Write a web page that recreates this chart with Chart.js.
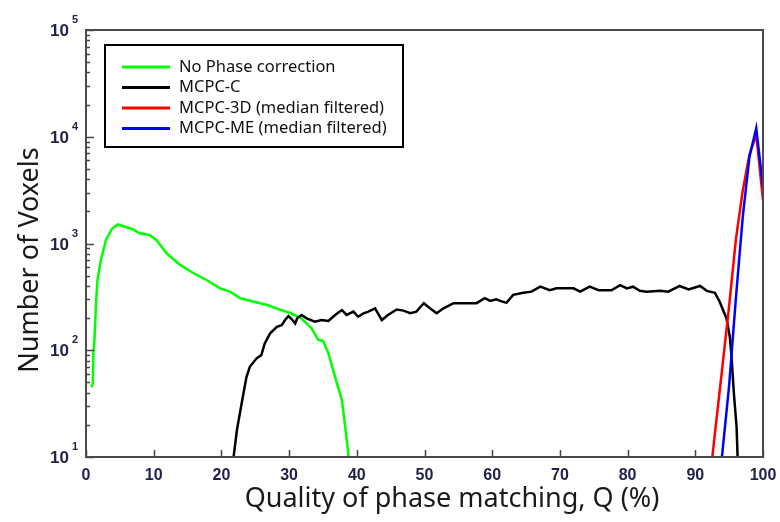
<!DOCTYPE html>
<html>
<head>
<meta charset="utf-8">
<script src="https://cdn.jsdelivr.net/npm/chart.js@4/dist/chart.umd.min.js"></script>
<style>
  html, body { margin: 0; padding: 0; background: #ffffff; }
  #wrap { width: 780px; height: 522px; }
</style>
</head>
<body>
<div id="wrap"><canvas id="chart" width="780" height="522"></canvas></div>
<script>
// Voxel-count histograms over phase-matching quality Q (%)
const seriesNames = [
  'No Phase correction',
  'MCPC-C',
  'MCPC-3D (median filtered)',
  'MCPC-ME (median filtered)'
];
const seriesColors = ['#00ff00', '#000000', '#ff0000', '#0000ff'];

// No phase correction
const qNoCorr = [0.8, 1.0, 1.1, 1.25, 1.5, 1.7, 2.2, 2.95, 3.9, 4.7, 5.4, 6.9, 7.9, 9.4, 10.4,
  11.9, 13.9, 15.9, 17.8, 19.8, 21.3, 22.8, 24.8, 26.8, 28.8, 30.3, 31.8, 33.3, 34.3, 35.0,
  35.8, 36.8, 37.8, 38.3, 38.8, 39.3];
const nNoCorr = [45, 48, 94, 125, 295, 455, 700, 1080, 1390, 1510, 1460, 1360, 1245, 1200, 1080,
  810, 630, 526, 455, 380, 354, 307, 285, 265, 238, 222, 199, 161, 125, 123,
  94, 56, 34, 19, 10, 5];

// MCPC-C
const qMcpcC = [21.0, 21.8, 22.3, 23.0, 23.7, 24.2, 25.2, 25.9, 26.4, 27.2, 28.2, 28.9, 29.4, 29.9,
  30.4, 30.9, 31.2, 31.85, 32.6, 33.8, 34.8, 35.8, 36.8, 37.8, 38.5, 39.5, 40.2, 41.0, 41.7,
  42.7, 43.7, 44.6, 45.9, 46.9, 47.9, 48.8, 49.9, 50.8, 51.8, 52.8, 54.3, 56.2, 57.7, 58.9,
  59.7, 60.6, 61.2, 62.1, 63.1, 64.6, 65.8, 67.1, 68.5, 69.5, 72.0, 73.0, 74.4, 75.7, 77.6,
  78.9, 79.9, 80.8, 81.8, 82.8, 84.8, 86.0, 87.7, 89.0, 90.7, 91.7, 92.9, 93.6, 94.1, 94.6,
  95.1, 95.35, 95.7, 96.1, 96.25, 96.6];
const nMcpcC = [6, 10, 18, 32, 56, 70, 84, 90, 116, 144, 166, 172, 192, 209,
  195, 178, 199, 214, 199, 185, 192, 188, 214, 238, 214, 230, 206, 222, 230,
  247, 192, 214, 241, 235, 222, 230, 276, 247, 222, 247, 276, 276, 276, 307,
  290, 300, 290, 278, 330, 345, 354, 394, 365, 380, 380, 354, 394, 365, 365,
  408, 380, 394, 360, 354, 360, 354, 400, 372, 400, 360, 345, 285, 238, 199,
  134, 87, 39.5, 19, 10, 5];

// MCPC-3D (median filtered)
const qMcpc3D = [92, 93, 94, 95, 96, 97, 98, 99, 100];
const nMcpc3D = [5, 19, 70, 260, 1100, 3100, 6800, 10500, 2550];

// MCPC-ME (median filtered)
const qMcpcME = [93, 94, 95, 96, 97, 98, 99, 100];
const nMcpcME = [3, 11, 47, 310, 1750, 6500, 12000, 3400];

const xTickValues = [0, 10, 20, 30, 40, 50, 60, 70, 80, 90, 100];
const yDecadeExponents = [1, 2, 3, 4, 5];

const xTitle = 'Quality of phase matching, Q (%)';
const yTitle = 'Number of Voxels';

const toPoints = (qs, ns) => qs.map((q, i) => ({ x: q, y: ns[i] }));
const seriesQ = [qNoCorr, qMcpcC, qMcpc3D, qMcpcME];
const seriesN = [nNoCorr, nMcpcC, nMcpc3D, nMcpcME];
const drawOrder = [3, 2, 1, 0];

const TEXT_FONT = '"Noto Sans", "Open Sans", sans-serif';
const TICK_FONT = '"Liberation Sans", Arial, sans-serif';
const TICK_COLOR = '#22224a';

// Frame, inward tick marks, superscript log labels, axis titles and boxed legend
const decorations = {
  id: 'decorations',
  afterDatasetsDraw(chart) {
    const { ctx, chartArea: a, scales } = chart;
    const xs = scales.x, ys = scales.y;
    ctx.save();

    // inward ticks on the bottom axis
    ctx.strokeStyle = '#444444';
    ctx.lineWidth = 1.5;
    xTickValues.forEach(v => {
      const px = Math.round(xs.getPixelForValue(v)) + 0.5;
      ctx.beginPath();
      ctx.moveTo(px, a.bottom);
      ctx.lineTo(px, a.bottom - 7);
      ctx.stroke();
    });

    // inward major/minor ticks on the left axis
    yDecadeExponents.forEach(e => {
      const base = Math.pow(10, e);
      const py = Math.round(ys.getPixelForValue(base)) + 0.5;
      ctx.beginPath();
      ctx.moveTo(a.left, py);
      ctx.lineTo(a.left + 8, py);
      ctx.stroke();
      if (e < 5) {
        for (let k = 2; k <= 9; k++) {
          const my = Math.round(ys.getPixelForValue(k * base)) + 0.5;
          ctx.beginPath();
          ctx.moveTo(a.left, my);
          ctx.lineTo(a.left + 4, my);
          ctx.stroke();
        }
      }
    });

    // plot frame
    ctx.strokeStyle = '#4a4a4a';
    ctx.lineWidth = 2;
    ctx.strokeRect(a.left, a.top, a.right - a.left, a.bottom - a.top);

    // log labels: 10 with superscript exponent
    ctx.fillStyle = TICK_COLOR;
    yDecadeExponents.forEach(e => {
      const py = ys.getPixelForValue(Math.pow(10, e));
      ctx.font = 'bold 17px ' + TICK_FONT;
      ctx.textAlign = 'right';
      ctx.textBaseline = 'alphabetic';
      ctx.fillText('10', 69, py + 6);
      ctx.font = 'bold 11px ' + TICK_FONT;
      ctx.textAlign = 'left';
      ctx.fillText(String(e), 72, py - 7);
    });

    // axis titles
    ctx.fillStyle = '#1a1a1a';
    ctx.font = '27px ' + TEXT_FONT;
    ctx.textAlign = 'center';
    ctx.textBaseline = 'middle';
    ctx.fillText(xTitle, 452, 499);
    ctx.save();
    ctx.translate(30, 260);
    ctx.rotate(-Math.PI / 2);
    ctx.fillText(yTitle, 0, 0);
    ctx.restore();

    // legend box
    const lx = 105, ly = 45, lw = 298, lh = 102;
    ctx.fillStyle = '#ffffff';
    ctx.fillRect(lx, ly, lw, lh);
    ctx.strokeStyle = '#000000';
    ctx.lineWidth = 2;
    ctx.strokeRect(lx, ly, lw, lh);
    ctx.font = '16.5px ' + TEXT_FONT;
    ctx.textAlign = 'left';
    ctx.textBaseline = 'middle';
    chart.data.datasets.forEach((ds, i) => {
      const ry = 67 + i * 20.5;
      ctx.strokeStyle = ds.borderColor;
      ctx.lineWidth = 3;
      ctx.beginPath();
      ctx.moveTo(122, ry);
      ctx.lineTo(170, ry);
      ctx.stroke();
      ctx.fillStyle = '#111111';
      ctx.fillText(ds.label, 179, ry);
    });

    ctx.restore();
  }
};

new Chart(document.getElementById('chart'), {
  type: 'line',
  data: {
    datasets: seriesNames.map((name, i) => ({
      label: name,
      data: toPoints(seriesQ[i], seriesN[i]),
      borderColor: seriesColors[i],
      backgroundColor: seriesColors[i],
      borderWidth: 2.5,
      pointRadius: 0,
      tension: 0,
      fill: false,
      clip: 0,
      order: drawOrder[i]
    }))
  },
  options: {
    responsive: false,
    animation: false,
    devicePixelRatio: 1,
    layout: { padding: { top: 30, right: 17, left: 0, bottom: 0 } },
    plugins: { legend: { display: false }, tooltip: { enabled: false } },
    scales: {
      x: {
        type: 'linear',
        min: 0,
        max: 100,
        afterFit(s) { s.height = 65; s.paddingLeft = 0; s.paddingRight = 0; },
        grid: { display: false, drawTicks: false },
        border: { display: false },
        ticks: {
          stepSize: 10,
          padding: 9,
          maxRotation: 0,
          autoSkip: false,
          color: TICK_COLOR,
          font: { family: TICK_FONT, weight: 'bold', size: 16 }
        }
      },
      y: {
        type: 'logarithmic',
        min: 10,
        max: 100000,
        afterFit(s) { s.width = 86; },
        grid: { display: false, drawTicks: false },
        border: { display: false },
        ticks: { display: false }
      }
    }
  },
  plugins: [decorations]
});
</script>
</body>
</html>
